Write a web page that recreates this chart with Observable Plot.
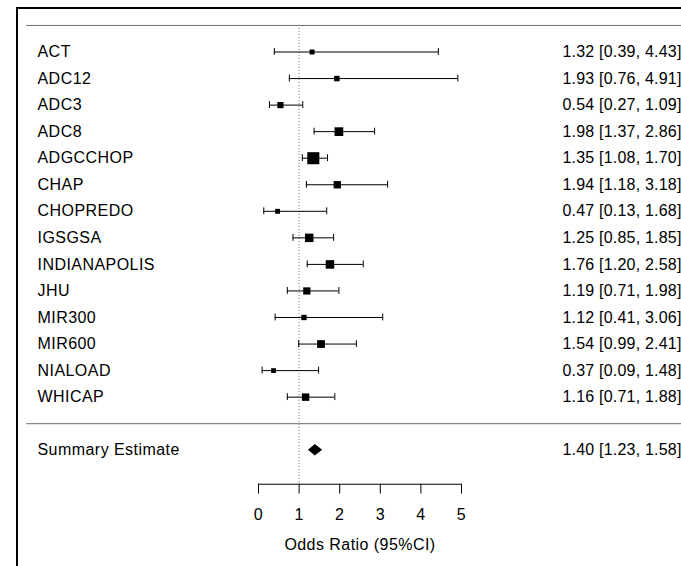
<!DOCTYPE html>
<html><head><meta charset="utf-8">
<script src="https://cdn.jsdelivr.net/npm/d3@7"></script>
<script src="https://cdn.jsdelivr.net/npm/@observablehq/plot@0.6"></script>
<style>
html,body{margin:0;padding:0;overflow:hidden;background:#fff;width:681px;height:566px}
#box{position:absolute;left:16px;top:7px;width:2000px;height:2000px;border-left:2px solid #000;border-top:2px solid #000}
#chart{position:absolute;left:0;top:0}
#chart svg text{letter-spacing:0.45px}
#chart svg g.ci text{letter-spacing:0.2px}
</style></head><body><div id="box"></div><div id="chart"></div>
<script>
const studies = ["ACT","ADC12","ADC3","ADC8","ADGCCHOP","CHAP","CHOPREDO","IGSGSA","INDIANAPOLIS","JHU","MIR300","MIR600","NIALOAD","WHICAP"];
const oddsRatio = [1.32,1.93,0.54,1.98,1.35,1.94,0.47,1.25,1.76,1.19,1.12,1.54,0.37,1.16];
const lower = [0.39,0.76,0.27,1.37,1.08,1.18,0.13,0.85,1.20,0.71,0.41,0.99,0.09,0.71];
const upper = [4.43,4.91,1.09,2.86,1.70,3.18,1.68,1.85,2.58,1.98,3.06,2.41,1.48,1.88];
const summaryLabel = "Summary Estimate";
const summaryOR = 1.40, summaryLower = 1.23, summaryUpper = 1.58;
const xTicks = [0,1,2,3,4,5];
const xLabel = "Odds Ratio (95%CI)";

const f2 = d3.format(".2f");
const rows = studies.map((s,i)=>({
  label: s, row: i+1, or: oddsRatio[i], lo: lower[i], hi: upper[i],
  // precision (1/SE) derived from the CI, used for square size as in metafor
  prec: 2*1.96/(Math.log(upper[i])-Math.log(lower[i])),
  ci: `${f2(oddsRatio[i])} [${f2(lower[i])}, ${f2(upper[i])}]`
}));
const sumRow = studies.length + 2;
const allText = [...rows, {label: summaryLabel, row: sumRow, ci: `${f2(summaryOR)} [${f2(summaryLower)}, ${f2(summaryUpper)}]`}];
const dh = 0.22;
const diamond = [
  {y: sumRow-dh, x1: summaryOR, x2: summaryOR},
  {y: sumRow, x1: summaryLower, x2: summaryUpper},
  {y: sumRow+dh, x1: summaryOR, x2: summaryOR}
];
const axisRow = 17.28, tickEnd = 17.65, tickLabRow = 18.42, titleRow = 19.55;
const cap = 0.13;

const chart = Plot.plot({
  width: 681, height: 566, margin: 0,
  style: {fontFamily: "'Liberation Sans', Arial, sans-serif", fontSize: "16px", color: "#000", background: "transparent"},
  x: {domain: [0,5], range: [258,461], axis: null},
  y: {domain: [0,20], range: [24.95, 555.95], axis: null},
  r: {type: "linear", domain: d3.extent(rows, d=>d.prec), range: [2.7, 6.8]},
  marks: [
    Plot.ruleY([0, studies.length+1], {x1: -5.71, x2: 12, stroke: "#6e6e6e", strokeWidth: 1}),
    Plot.ruleX([1], {y1: 0, y2: axisRow, stroke: "#777", strokeDasharray: "1,2"}),
    Plot.ruleY(rows, {y: "row", x1: "lo", x2: "hi", stroke: "#000", strokeWidth: 1}),
    Plot.ruleX(rows, {x: "lo", y1: d=>d.row-cap, y2: d=>d.row+cap, stroke: "#000"}),
    Plot.ruleX(rows, {x: "hi", y1: d=>d.row-cap, y2: d=>d.row+cap, stroke: "#000"}),
    Plot.dot(rows, {x: "or", y: "row", r: "prec", symbol: "square", fill: "#000", stroke: null}),
    Plot.areaX(diamond, {y: "y", x1: "x1", x2: "x2", fill: "#000", curve: "linear"}),
    Plot.text(allText, {y: "row", text: "label", frameAnchor: "left", dx: 37, textAnchor: "start", fill: "#000"}),
    Plot.text(allText, {y: "row", text: "ci", frameAnchor: "left", dx: 562, textAnchor: "start", fill: "#000", className: "ci"}),
    Plot.ruleY([axisRow], {x1: 0, x2: 5, stroke: "#000"}),
    Plot.ruleX(xTicks, {x: d=>d, y1: axisRow, y2: tickEnd, stroke: "#000"}),
    Plot.text(xTicks, {x: d=>d, y: tickLabRow, text: d=>String(d), fill: "#000"}),
    Plot.text([xLabel], {x: 2.5, y: titleRow, text: d=>d, fill: "#000"})
  ]
});
document.getElementById("chart").appendChild(chart);
</script></body></html>
